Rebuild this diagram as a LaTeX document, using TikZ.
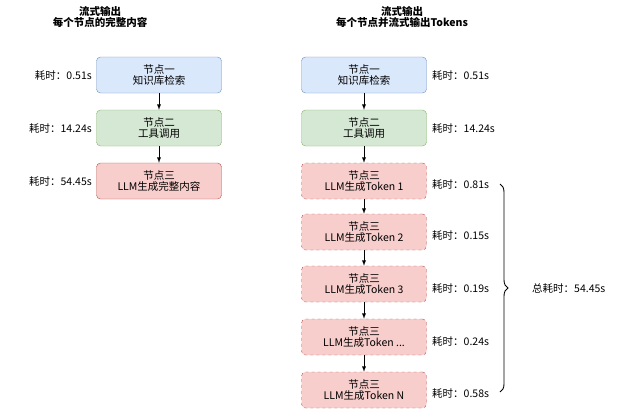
\documentclass[tikz,border=0pt]{standalone}
\usepackage{fontspec}
\setmainfont{Noto Sans CJK SC}
\usetikzlibrary{positioning,shapes,arrows,decorations.pathreplacing}
\definecolor{blueFill}{HTML}{DAE8FC}
\definecolor{blueLine}{HTML}{6C8EBF}
\definecolor{greenFill}{HTML}{D5E8D4}
\definecolor{greenLine}{HTML}{82B366}
\definecolor{redFill}{HTML}{F8CECC}
\definecolor{redLine}{HTML}{B85450}

\begin{document}
\begin{tikzpicture}[
  x=1pt, y=-1pt,
  every node/.style={font=\fontsize{10.5}{12.5}\selectfont, align=center},
  stage/.style={shape=rectangle, rounded corners=4pt, draw, minimum width=125pt, minimum height=36pt, inner sep=1pt},
  blue box/.style={stage, fill=blueFill, draw=blueLine},
  green box/.style={stage, fill=greenFill, draw=greenLine},
  red box/.style={stage, fill=redFill, draw=redLine},
  token box/.style={red box, dashed},
  time/.style={inner sep=1pt},
  flow/.style={-latex, line width=0.9pt}
]
  \useasboundingbox (0,0) rectangle (640,416);

  % Titles
  \node (titleA) at (100,17) {\textbf{流式输出}\\[-2pt]\textbf{每个节点的完整内容}};
  \node (titleB) at (402,17) {\textbf{流式输出}\\[-2pt]\textbf{每个节点并流式输出Tokens}};

  % Left column
  \node[blue box] (a1) at (159,75) {节点一\\[-2pt]知识库检索};
  \node[green box] (a2) at (159,128) {节点二\\[-2pt]工具调用};
  \node[red box] (a3) at (159,181) {节点三\\[-2pt]LLM生成完整内容};
  \node[time, anchor=east] (ta1) at (93,75) {耗时：0.51s};
  \node[time, anchor=east] (ta2) at (93,128) {耗时：14.24s};
  \node[time, anchor=east] (ta3) at (93,181) {耗时：54.45s};
  \draw[flow] (a1) -- (a2);
  \draw[flow] (a2) -- (a3);

  % Right column
  \node[blue box] (b1) at (364,75) {节点一\\[-2pt]知识库检索};
  \node[green box] (b2) at (364,128) {节点二\\[-2pt]工具调用};
  \node[token box] (b3) at (364,181) {节点三\\[-2pt]LLM生成Token 1};
  \node[token box] (b4) at (364,232) {节点三\\[-2pt]LLM生成Token 2};
  \node[token box] (b5) at (364,284) {节点三\\[-2pt]LLM生成Token 3};
  \node[token box] (b6) at (364,337) {节点三\\[-2pt]LLM生成Token ...};
  \node[token box] (b7) at (364,390) {节点三\\[-2pt]LLM生成Token N};
  \draw[flow] (b1) -- (b2);
  \foreach \i [evaluate=\i as \j using int(\i+1)] in {2,...,6}
    \draw[flow] (b\i) -- (b\j);

  \node[time, anchor=west] (tb1) at (431,75) {耗时：0.51s};
  \node[time, anchor=west] (tb2) at (431,128) {耗时：14.24s};
  \node[time, anchor=west] (tb3) at (431,184) {耗时：0.81s};
  \node[time, anchor=west] (tb4) at (431,235) {耗时：0.15s};
  \node[time, anchor=west] (tb5) at (431,288) {耗时：0.19s};
  \node[time, anchor=west] (tb6) at (431,341) {耗时：0.24s};
  \node[time, anchor=west] (tb7) at (431,393) {耗时：0.58s};

  % Total brace
  \coordinate (braceTop) at (500,184);
  \coordinate (braceBot) at (500,392);
  \draw[decorate, line width=0.9pt, decoration={brace, amplitude=8pt}] (braceTop) -- (braceBot);
  \node[time, anchor=west] (total) at (531,288) {总耗时：54.45s};
\end{tikzpicture}
\end{document}
